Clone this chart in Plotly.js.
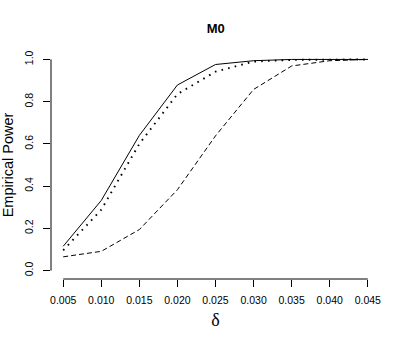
<!DOCTYPE html>
<html>
<head>
<meta charset="utf-8">
<script src="https://cdn.plot.ly/plotly-3.0.1.min.js"></script>
<style>
  html, body { margin: 0; padding: 0; background: #fff; }
  #plot { width: 407px; height: 344px; }
</style>
</head>
<body>
<div id="plot"></div>
<script>
// effect size delta on the x axis
var delta = [0.005, 0.010, 0.015, 0.020, 0.025, 0.030, 0.035, 0.040, 0.045]

// empirical power of the three tests
var powerSolid  = [0.115, 0.332, 0.640, 0.879, 0.976, 0.994, 1.000, 1.000, 1.000]
var powerDotted = [0.096, 0.288, 0.600, 0.836, 0.942, 0.990, 0.998, 1.000, 1.000]
var powerDashed = [0.065, 0.091, 0.194, 0.383, 0.638, 0.858, 0.969, 0.994, 1.000]

var yTicks = [0, 0.2, 0.4, 0.6, 0.8, 1.0]

var font = 'Liberation Sans, Arial, Helvetica, sans-serif'

function line(y, dash, width){
	return {
		x: delta,
		y: y,
		type: 'scatter',
		mode: 'lines',
		line: {color: '#000', width: width, dash: dash},
		cliponaxis: false,
		hoverinfo: 'skip'
	}
}

var traces = [
	line(powerSolid, 'solid', 1),
	line(powerDashed, '5px,3px', 1),
	line(powerDotted, '1.6px,5.2px', 1.9)
]

// R pads the data range by 4% on each side
var xPad = (delta[delta.length-1] - delta[0]) * 0.04
var yPad = (yTicks[yTicks.length-1] - yTicks[0]) * 0.04

var layout = {
	width: 407,
	height: 344,
	margin: {l: 51, r: 26.5, t: 51, b: 64.5},
	paper_bgcolor: '#fff',
	plot_bgcolor: '#fff',
	showlegend: false,
	font: {family: font, color: '#000'},
	title: {
		text: '<b>M0</b>',
		font: {family: font, size: 13, color: '#000'},
		x: 0.5 + (51 - 26.5) / 2 / 407,
		xanchor: 'center',
		y: 1 - 28.5 / 344,
		yanchor: 'middle'
	},
	xaxis: {
		range: [delta[0] - xPad, delta[delta.length-1] + xPad],
		tickvals: delta,
		tickformat: '.3f',
		ticks: 'outside',
		ticklen: 7,
		tickwidth: 1,
		tickcolor: '#000',
		ticklabelstandoff: 4,
		tickfont: {family: font, size: 10.5, color: '#000'},
		showgrid: false,
		zeroline: false,
		showline: false,
		fixedrange: true,
		title: {text: 'δ', font: {family: 'Liberation Serif, Times New Roman, serif', size: 18, color: '#000'}, standoff: 8}
	},
	yaxis: {
		range: [yTicks[0] - yPad, yTicks[yTicks.length-1] + yPad],
		tickvals: yTicks,
		tickformat: '.1f',
		tickangle: -90,
		ticks: 'outside',
		ticklen: 7,
		tickwidth: 1,
		tickcolor: '#000',
		ticklabelstandoff: 6,
		tickfont: {family: font, size: 10.5, color: '#000'},
		showgrid: false,
		zeroline: false,
		showline: false,
		fixedrange: true,
		title: {text: 'Empirical Power', font: {family: font, size: 14.5, color: '#000'}, standoff: 10}
	},
	shapes: [
		// R style axis lines, from first to last tick only
		{type: 'line', xref: 'x', yref: 'paper', x0: delta[0], x1: delta[delta.length-1], y0: 0, y1: 0,
			line: {color: '#000', width: 1}},
		{type: 'line', xref: 'paper', yref: 'y', x0: 0, x1: 0, y0: yTicks[0], y1: yTicks[yTicks.length-1],
			line: {color: '#000', width: 1}}
	]
}

Plotly.newPlot('plot', traces, layout, {staticPlot: true, displayModeBar: false})
</script>
</body>
</html>
